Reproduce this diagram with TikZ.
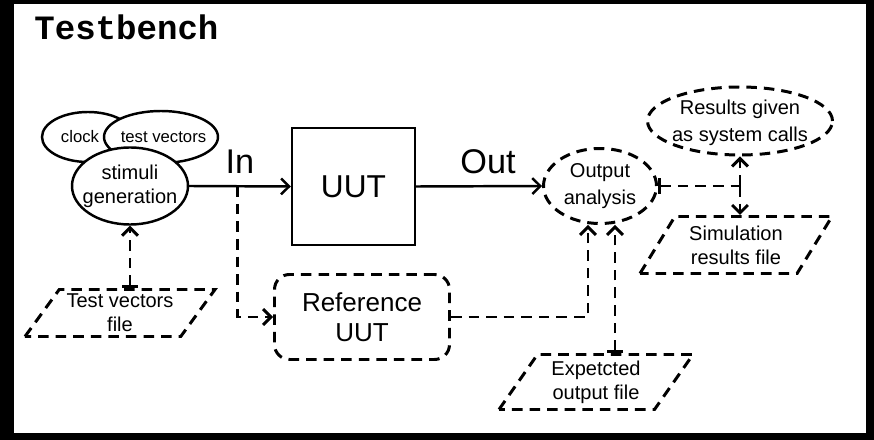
\documentclass[tikz,border=0pt]{standalone}
\usepackage{fontspec}
\setmainfont{Liberation Sans}
\newfontfamily\titlefont{Liberation Mono}
\usetikzlibrary{arrows.meta,positioning,calc,shapes.geometric}

\begin{document}
\begin{tikzpicture}[
  solidline/.style={line width=1.4pt},
  dashline/.style={line width=1.7pt,dash pattern=on 6pt off 4pt},
  tip/.style={-{Straight Barb[length=4.5pt,width=9pt]}},
  bartip/.style={{Bar[width=9pt]}-{Straight Barb[length=4.5pt,width=9pt]}},
  blob/.style={ellipse,draw,fill=white,inner sep=0pt},
  txt/.style={align=center,font=\fontsize{11.4}{13.7}\selectfont},
  widetxt/.style={align=center,font=\fontsize{11.4}{15.5}\selectfont},
  datafile/.style={trapezium,trapezium left angle=48,trapezium right angle=132,
    trapezium stretches body,draw,dashline,inner sep=0pt,txt},
  iolabel/.style={font=\fontsize{19.5}{22}\selectfont}
]
  \useasboundingbox (0,0) rectangle (17.48,8.8);
  % frame
  \fill[black] (0,0) rectangle (17.48,8.8);
  \fill[white] (0.28,0.13) rectangle (17.32,8.72);
  \node[anchor=base west,inner sep=0pt,font=\titlefont\bfseries\fontsize{19.4}{22}\selectfont] (title) at (0.68,8.0) {Testbench};

  % Stimuli generation
  \node[blob,solidline,minimum width=1.84cm,minimum height=1.0cm,
    label={[font=\fontsize{9.5}{11}\selectfont,xshift=-0.16cm]center:clock}] (clk) at (1.76,6.06) {};
  \node[blob,solidline,minimum width=2.28cm,minimum height=1.04cm,
    label={[font=\fontsize{9.5}{11}\selectfont,xshift=0.05cm]center:test vectors}] (tv) at (3.22,6.06) {};
  \node[blob,solidline,minimum width=2.32cm,minimum height=1.54cm,
    label={[txt]center:{stimuli\\generation}}] (stim) at (2.6,5.08) {};
  \node[datafile,minimum width=3.8cm,minimum height=0.94cm] (tvf) at (2.4,2.54) {Test vectors\\file};

  % Unit under test
  \node[draw,solidline,minimum width=2.46cm,minimum height=2.34cm,font=\fontsize{18}{20}\selectfont] (uut) at (7.07,5.07) {UUT};
  \node[draw,dashline,rounded corners=0.3cm,minimum width=3.5cm,minimum height=1.7cm,align=center,
    font=\fontsize{14.8}{17}\selectfont] (ref) at (7.24,2.46) {Reference\\UUT};
  \node[iolabel] (inlbl) at (4.8,5.56) {In};
  \node[iolabel] (outlbl) at (9.76,5.56) {Out};

  % Output analysis
  \node[blob,dashline,minimum width=2.26cm,minimum height=1.5cm,
    label={[widetxt]center:{Output\\analysis}}] (oa) at (12.0,5.08) {};
  \node[blob,dashline,minimum width=3.7cm,minimum height=1.36cm,
    label={[widetxt,yshift=-0.04cm]center:{Results given\\as system calls}}] (res) at (14.8,6.38) {};
  \node[datafile,minimum width=3.84cm,minimum height=1.14cm] (srf) at (14.72,3.9) {Simulation\\results file};
  \node[datafile,minimum width=3.88cm,minimum height=1.1cm] (eof) at (11.92,1.16) {Expetcted\\output file};

  % Connectors
  \coordinate (inj) at ($(stim.east)!0.48!(uut.west)$);
  \coordinate (oaL) at ([xshift=-0.24cm]oa.south);
  \coordinate (oaR) at ([xshift=0.3cm]oa.south);
  \coordinate (jn) at (oa.east -| res.south);
  \draw[solidline,tip] (stim.east) -- (uut.west);
  \draw[solidline,tip] (uut.east) -- (oa.west);
  \draw[dashline,bartip] (stim.south |- tvf.north) -- (stim.south);
  \draw[dashline,tip] (inj) |- (ref.west);
  \draw[dashline,tip] (ref.east) -| (oaL);
  \draw[dashline,bartip] (oaR |- eof.north) -- (oaR);
  \draw[dashline,{Bar[width=9pt]}-] (oa.east) -- (jn);
  \draw[dashline,tip] (jn) -- (res.south);
  \draw[dashline,tip] (jn) -- (jn |- srf.north);
\end{tikzpicture}
\end{document}
